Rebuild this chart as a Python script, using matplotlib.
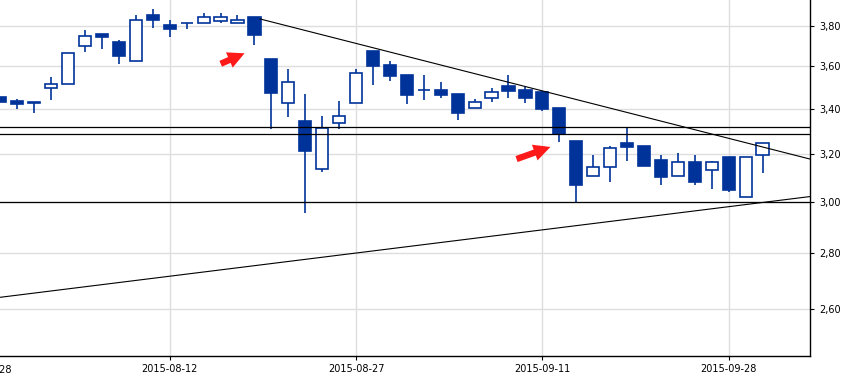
import matplotlib
matplotlib.use("Agg")
import matplotlib.pyplot as plt
from matplotlib.ticker import FixedLocator, FuncFormatter, NullLocator
import numpy as np
import pandas as pd

# trading days, first one 2015-07-29
dates = pd.bdate_range("2015-07-29", periods=46)

opens = [3.453, 3.436, 3.425, 3.495, 3.513, 3.697, 3.759, 3.719, 3.624, 3.856,
         3.805, 3.813, 3.813, 3.824, 3.813, 3.846, 3.635, 3.425, 3.345, 3.135,
         3.334, 3.425, 3.674, 3.606, 3.558, 3.485, 3.487, 3.468, 3.402, 3.451,
         3.504, 3.487, 3.477, 3.403, 3.256, 3.105, 3.143, 3.247, 3.234, 3.174,
         3.105, 3.165, 3.133, 3.186, 3.021, 3.194]
closes = [3.433, 3.423, 3.433, 3.513, 3.663, 3.747, 3.745, 3.651, 3.832, 3.830,
          3.786, 3.813, 3.846, 3.845, 3.832, 3.755, 3.474, 3.523, 3.214, 3.313,
          3.366, 3.566, 3.602, 3.554, 3.465, 3.485, 3.465, 3.382, 3.433, 3.477,
          3.483, 3.451, 3.399, 3.287, 3.070, 3.143, 3.224, 3.231, 3.150, 3.103,
          3.165, 3.083, 3.164, 3.049, 3.186, 3.246]
highs = [3.455, 3.445, 3.433, 3.548, 3.663, 3.778, 3.759, 3.729, 3.856, 3.887,
         3.832, 3.815, 3.865, 3.865, 3.856, 3.846, 3.635, 3.586, 3.468, 3.367,
         3.436, 3.586, 3.674, 3.625, 3.558, 3.558, 3.524, 3.468, 3.445, 3.496,
         3.558, 3.500, 3.480, 3.403, 3.256, 3.195, 3.234, 3.315, 3.234, 3.195,
         3.205, 3.195, 3.168, 3.186, 3.186, 3.246]
lows = [3.430, 3.400, 3.382, 3.442, 3.513, 3.671, 3.686, 3.612, 3.624, 3.791,
        3.745, 3.786, 3.813, 3.813, 3.813, 3.705, 3.310, 3.364, 2.955, 3.122,
        3.310, 3.425, 3.512, 3.530, 3.423, 3.440, 3.451, 3.349, 3.402, 3.432,
        3.451, 3.425, 3.391, 3.253, 2.995, 3.105, 3.083, 3.171, 3.150, 3.069,
        3.105, 3.069, 3.052, 3.042, 3.021, 3.120]

tick_dates = ["2015-07-28", "2015-08-12", "2015-08-27", "2015-09-11", "2015-09-28"]
price_ticks = [2.6, 2.8, 3.0, 3.2, 3.4, 3.6, 3.8]

# drawn lines: (x index, price) end points
resistance = [(15.34, 3.835), (47.8, 3.178)]
support = [(0.0, 2.640), (47.8, 3.022)]
levels = [3.317, 3.287, 3.00]
arrows = [((12.86, 3.606), (14.57, 3.668)), ((30.32, 3.174), (32.63, 3.234))]

blue = "#00339a"

fig = plt.figure(figsize=(8.66, 3.76), dpi=100)
ax = fig.add_axes([0.0, 20 / 376, 810 / 866, 356 / 376])

x = np.arange(len(dates))
o = np.array(opens)
c = np.array(closes)
up = c >= o

ax.set_yscale("log")
ax.set_xlim(-0.02, 47.8)
ax.set_ylim(2.44, 3.934)

# wicks first, bodies on top
ax.vlines(x, lows, highs, color=blue, lw=1.2, zorder=3)
bottom = np.minimum(o, c)
height = np.abs(c - o)
ax.bar(x[up], height[up], bottom=bottom[up], width=0.72, facecolor="white",
       edgecolor=blue, linewidth=1.2, zorder=4)
ax.bar(x[~up], height[~up], bottom=bottom[~up], width=0.72, facecolor=blue,
       edgecolor=blue, linewidth=1.2, zorder=4)

for lv in levels:
    ax.axhline(lv, color="black", lw=0.9, zorder=5)
for line in (resistance, support):
    ax.plot([p[0] for p in line], [p[1] for p in line], color="black", lw=0.8, zorder=5)

for tail, tip in arrows:
    ax.annotate("", xy=tip, xytext=tail,
                arrowprops=dict(arrowstyle="simple,head_width=1.0,head_length=1.0,tail_width=0.38",
                                color="#ff1a1a", lw=0, mutation_scale=12), zorder=6)

# axes styling
for side in ("top", "left"):
    ax.spines[side].set_visible(False)
ax.spines["right"].set_linewidth(1.0)
ax.spines["bottom"].set_linewidth(1.0)

ax.yaxis.tick_right()
ax.yaxis.set_major_locator(FixedLocator(price_ticks))
ax.yaxis.set_minor_locator(NullLocator())
ax.yaxis.set_major_formatter(FuncFormatter(lambda v, p: f"{v:.2f}".replace(".", ",")))
ax.tick_params(axis="y", direction="out", length=3, width=0.8, labelsize=7, pad=4)

date_idx = [int(np.busday_count("2015-07-29", d)) for d in tick_dates]
date_idx[0] = -1
ax.set_xticks(date_idx[1:])
ax.set_xticklabels(tick_dates[1:])
ax.tick_params(axis="x", direction="out", length=3, width=0.8, labelsize=7, pad=3)
# first date sits left of the plot, only its tail shows at the edge
ax.text(-1, -0.025, tick_dates[0], transform=ax.get_xaxis_transform(),
        ha="center", va="top", fontsize=7, clip_on=False)

ax.grid(True, color="#dedede", lw=1.0, zorder=0)
ax.set_axisbelow(True)

fig.savefig("out.png", dpi=100)
